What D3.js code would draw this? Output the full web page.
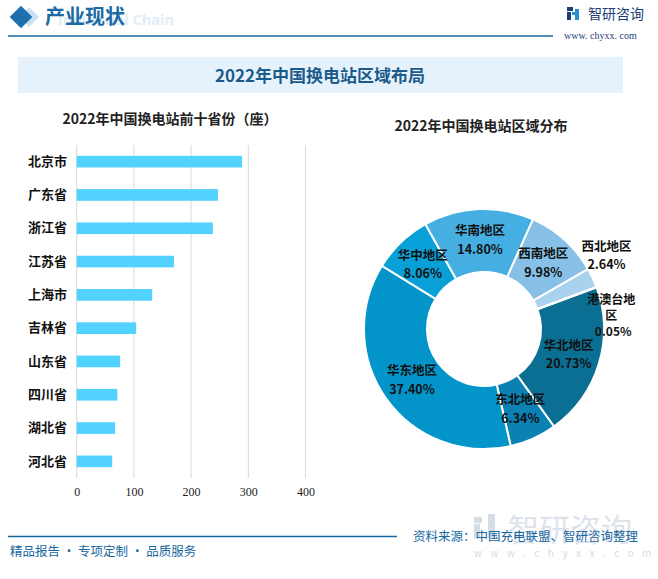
<!DOCTYPE html>
<html>
<head>
<meta charset="utf-8">
<script src="https://cdn.jsdelivr.net/npm/d3@7/dist/d3.min.js"></script>
<style>
  html, body { margin: 0; padding: 0; background: #fff; }
  svg { display: block; }
</style>
</head>
<body>
<svg id="chart" width="658" height="579"></svg>
<script>
// ---- data ----
const provinces = ["北京市", "广东省", "浙江省", "江苏省", "上海市", "吉林省", "山东省", "四川省", "湖北省", "河北省"];
const stationCounts = [289, 247, 238, 170, 132, 104, 76, 71, 67, 62];
const barTicks = [0, 100, 200, 300, 400];

const regions = ["华北地区", "东北地区", "华东地区", "华中地区", "华南地区", "西南地区", "西北地区", "港澳台地区"];
const regionShares = [20.73, 6.34, 37.40, 8.06, 14.80, 9.98, 2.64, 0.05];
const regionColors = ["#0B6E93", "#0A80B3", "#0395CA", "#09A0D8", "#45AFE2", "#86C0E6", "#A9D2EF", "#C5E2F5"];

const svg = d3.select("#chart");
const cjk = "'Noto Sans CJK SC', 'Noto Sans', sans-serif";
const serif = "'Liberation Serif', 'DejaVu Serif', serif";

// ---- header ----
svg.append("text").attr("x", 58).attr("y", 25)
  .attr("font-family", "'Open Sans', sans-serif").attr("font-weight", 700)
  .attr("font-size", 14.5).attr("fill", "#e1edf7").text("Industrial Chain");
svg.append("rect").attr("x", 22).attr("y", 10).attr("width", 14).attr("height", 14)
  .attr("transform", "rotate(45 29 17)").attr("fill", "#c9e2f3");
svg.append("rect").attr("x", 13).attr("y", 9).attr("width", 16).attr("height", 16)
  .attr("transform", "rotate(45 21 17)").attr("fill", "#1d6fae");
svg.append("text").attr("x", 45).attr("y", 24)
  .attr("font-family", cjk).attr("font-weight", 700).attr("font-size", 20)
  .attr("fill", "#1a6aa6").text("产业现状");
svg.append("line").attr("x1", 8).attr("x2", 553).attr("y1", 36).attr("y2", 36)
  .attr("stroke", "#16679f").attr("stroke-width", 1.5);
// logo
const logo = svg.append("g").attr("transform", "translate(567,7)");
logo.append("rect").attr("x", 0).attr("y", 0).attr("width", 6).attr("height", 4).attr("fill", "#1d3d7a");
logo.append("rect").attr("x", 0).attr("y", 5).attr("width", 4).attr("height", 8).attr("fill", "#1d3d7a");
logo.append("rect").attr("x", 5).attr("y", 5).attr("width", 4).attr("height", 3).attr("fill", "#2a8fd0");
logo.append("rect").attr("x", 8).attr("y", 2).attr("width", 4).attr("height", 11).attr("fill", "#2a8fd0");
svg.append("text").attr("x", 588).attr("y", 19)
  .attr("font-family", cjk).attr("font-size", 14).attr("fill", "#1d3d7a").text("智研咨询");
svg.append("text").attr("x", 564).attr("y", 39)
  .attr("font-family", serif).attr("font-size", 10).attr("fill", "#1d3d7a").text("www. chyxx. com");

// ---- title banner ----
svg.append("rect").attr("x", 18).attr("y", 57).attr("width", 605).attr("height", 36).attr("fill", "#e6f2fb");
svg.append("text").attr("x", 320).attr("y", 82).attr("text-anchor", "middle")
  .attr("font-family", cjk).attr("font-weight", 700).attr("font-size", 17)
  .attr("fill", "#1b5b8c").text("2022年中国换电站区域布局");

// ---- bar chart ----
svg.append("text").attr("x", 170).attr("y", 124).attr("text-anchor", "middle")
  .attr("font-family", cjk).attr("font-weight", 700).attr("font-size", 14)
  .attr("fill", "#222").text("2022年中国换电站前十省份（座）");

const x = d3.scaleLinear().domain([0, 400]).range([76.7, 305.5]);
const y = d3.scaleBand().domain(provinces).range([145, 478]).paddingInner(0.65).paddingOuter(0.325);

const gGrid = svg.append("g");
gGrid.selectAll("line").data(barTicks).join("line")
  .attr("x1", d => x(d)).attr("x2", d => x(d))
  .attr("y1", 145).attr("y2", 478)
  .attr("stroke", "#d9d9d9").attr("stroke-width", 1);

const xAxis = svg.append("g").attr("transform", "translate(0,478)")
  .call(d3.axisBottom(x).tickValues(barTicks).tickSize(0).tickPadding(9));
xAxis.select(".domain").remove();
xAxis.selectAll("text").attr("font-family", serif).attr("font-size", 12).attr("fill", "#222");

svg.append("g").selectAll("rect").data(stationCounts).join("rect")
  .attr("x", x(0)).attr("y", (d, i) => y(provinces[i]))
  .attr("width", d => x(d) - x(0)).attr("height", y.bandwidth())
  .attr("fill", "#52D3FF");

const yAxis = svg.append("g").attr("transform", "translate(67,0)")
  .call(d3.axisLeft(y).tickSize(0).tickPadding(0));
yAxis.select(".domain").remove();
yAxis.selectAll("text").attr("font-family", cjk).attr("font-weight", 700)
  .attr("font-size", 13).attr("fill", "#111");

// ---- donut chart ----
svg.append("text").attr("x", 481).attr("y", 131).attr("text-anchor", "middle")
  .attr("font-family", cjk).attr("font-weight", 700).attr("font-size", 14)
  .attr("fill", "#222").text("2022年中国换电站区域分布");

const cx = 484, cy = 329;
const startAng = 69.7 * Math.PI / 180;
const pie = d3.pie().sort(null).value(d => d).startAngle(startAng).endAngle(startAng + 2 * Math.PI);
const arcs = pie(regionShares);
const arc = d3.arc().innerRadius(57).outerRadius(120);
const gPie = svg.append("g").attr("transform", `translate(${cx},${cy})`);
gPie.selectAll("path").data(arcs).join("path")
  .attr("d", arc).attr("fill", (d, i) => regionColors[i])
  .attr("stroke", "#fff").attr("stroke-width", 2);

// labels: centroid for normal slices; small slices pushed outward
const outerLabelArc = d3.arc().innerRadius(140).outerRadius(140);
arcs.forEach((a, i) => {
  let pos = arc.centroid(a);
  let lines = [regions[i], regionShares[i].toFixed(2) + "%"];
  let lh = 18.5;
  if (regionShares[i] < 5 && i !== 1) {
    if (i === regions.length - 1) {
      const c = outerLabelArc.centroid({startAngle: a.startAngle + 0.25, endAngle: a.endAngle + 0.25});
      pos = [c[0] - 12, c[1] + 2];
      lines = [regions[i].slice(0, 4), regions[i].slice(4), regionShares[i].toFixed(2) + "%"];
      lh = 16;
    } else {
      const c = outerLabelArc.centroid({startAngle: a.startAngle - 0.05, endAngle: a.endAngle - 0.05});
      pos = [c[0] - 1, c[1] - 7];
    }
  }
  const t = gPie.append("text").attr("text-anchor", "middle")
    .attr("font-family", cjk).attr("font-weight", 700).attr("font-size", lines.length === 3 ? 12 : 12.5)
    .attr("fill", "#111");
  const y0 = pos[1] - (lines.length - 1) * lh / 2 + 4;
  lines.forEach((s, k) => {
    t.append("tspan").attr("x", pos[0] + (k === 2 && lines.length === 3 ? 2 : 0)).attr("y", y0 + k * lh).text(s);
  });
});

// ---- footer ----
svg.append("text").attr("x", 508).attr("y", 541)
  .attr("font-family", cjk).attr("font-size", 31).attr("fill", "#dde3ea").text("智研咨询");
svg.append("text").attr("x", 474).attr("y", 557)
  .attr("font-family", cjk).attr("font-size", 10).attr("letter-spacing", 8.5)
  .attr("fill", "#d6dce3").text("www.chyxx.com");
svg.append("rect").attr("x", 474).attr("y", 517).attr("width", 8).attr("height", 6).attr("fill", "#d6dde6");
svg.append("rect").attr("x", 474).attr("y", 524).attr("width", 6).attr("height", 14).attr("fill", "#d6dde6");
svg.append("rect").attr("x", 488).attr("y", 514).attr("width", 7).attr("height", 24).attr("fill", "#d6dde6");

svg.append("line").attr("x1", 8).attr("x2", 397).attr("y1", 536.5).attr("y2", 536.5)
  .attr("stroke", "#16679f").attr("stroke-width", 1.5);
svg.append("text").attr("x", 10).attr("y", 556)
  .attr("font-family", cjk).attr("font-size", 12.5).attr("fill", "#16679f")
  .text("精品报告 · 专项定制 · 品质服务");
svg.append("text").attr("x", 413).attr("y", 541)
  .attr("font-family", cjk).attr("font-size", 12.5).attr("fill", "#16679f")
  .text("资料来源：中国充电联盟、智研咨询整理");
</script>
</body>
</html>
